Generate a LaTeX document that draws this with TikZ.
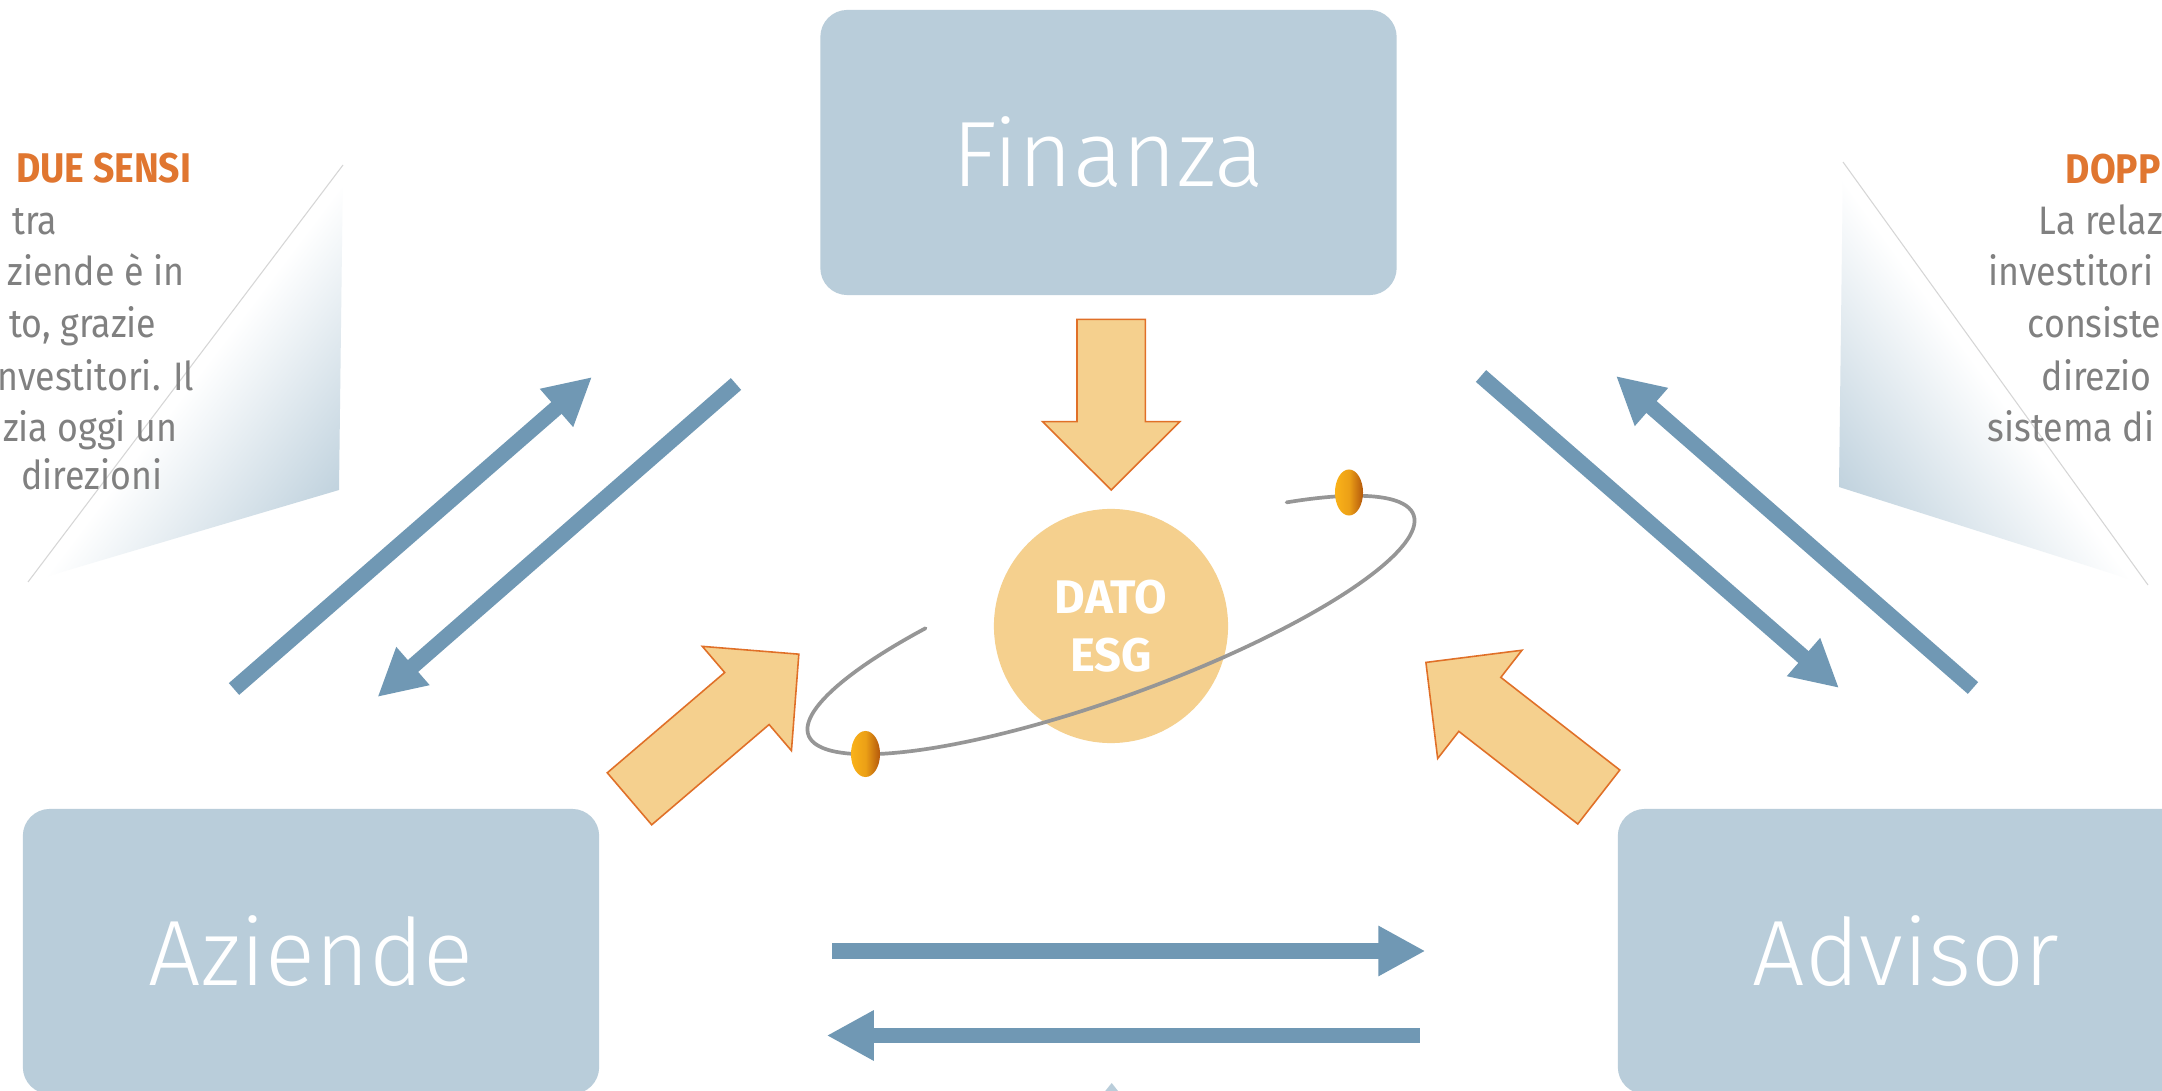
\documentclass[tikz,border=0pt]{standalone}
\usepackage{fontspec}
\setmainfont{Fira Sans}
\newfontfamily\lightfont{Fira Sans Light}
\newfontfamily\sidefont[FakeStretch=0.9]{Fira Sans}
\usetikzlibrary{arrows.meta}

\definecolor{boxblue}{RGB}{185,205,218}
\definecolor{arrowblue}{RGB}{112,152,180}
\definecolor{peach}{RGB}{245,208,142}
\definecolor{orangeline}{RGB}{224,112,40}
\definecolor{titleorange}{RGB}{224,118,48}
\definecolor{txtgray}{RGB}{128,128,128}
\definecolor{beadlight}{RGB}{250,178,25}
\definecolor{beaddark}{RGB}{180,88,12}
\definecolor{orbitgray}{RGB}{150,150,150}

\pgfdeclareverticalshading{fold}{100bp}{color(0bp)=(boxblue); color(36bp)=(boxblue); color(45.5bp)=(boxblue!50); color(55bp)=(white); color(100bp)=(white)}

\tikzset{
  bigbox/.style={rounded corners=0.27cm, fill=boxblue, minimum width=5.76cm, minimum height=2.85cm,
    text=white, font=\lightfont\fontsize{26.4pt}{30pt}\selectfont, inner sep=0pt},
  sidetxt/.style={inner sep=0pt, text=txtgray, font=\sidefont\fontsize{11.3pt}{14.6pt}\selectfont},
  sidetitle/.style={inner sep=0pt, text=titleorange, font=\sidefont\bfseries\fontsize{11.8pt}{14.6pt}\selectfont},
  flow/.style={draw=arrowblue, line width=4.45pt, -{Triangle[length=13.4pt,width=13.4pt]}},
  blockarrow/.style={fill=peach, draw=orangeline, line width=0.45pt, line join=miter},
  foldedge/.style={draw=black!16, line width=0.3pt}
}

\newcommand\blockarr[4]{% tail, angle, shaft length, name
  \begin{scope}[shift={(#1)}, rotate=#2]
    \filldraw[blockarrow] (0,-34.2) -- (#3,-34.2) -- (#3,-68.6) -- ({#3+68.3},0)
      -- (#3,68.6) -- (#3,34.2) -- (0,34.2) -- cycle;
    \coordinate (#4) at ({#3+68.3},0);
  \end{scope}}

\begin{document}
\begin{tikzpicture}[x=0.01cm, y=-0.01cm]
\useasboundingbox (0,0) rectangle (2162,1091);
\clip (0,0) rectangle (2162,1091);
\fill[white] (0,0) rectangle (2162,1091);

% folded gradient panels
\begin{scope}
  \clip (343,165) -- (339,490) -- (28,582) -- cycle;
  \shade[shading=fold, shading angle=52.9] (-33.3,142.3) rectangle (506.7,682.3);
\end{scope}
\draw[foldedge] (343,165) -- (28,582);
\begin{scope}
  \clip (1843,162) -- (1839,487) -- (2148,585) -- cycle;
  \shade[shading=fold, shading angle=-54.2] (1673.3,141.3) rectangle (2213.3,681.3);
\end{scope}
\draw[foldedge] (1843,162) -- (2148,585);

% left side text
\node[sidetitle, anchor=base east] (lt0) at (192,183) {DUE SENSI};
\node[sidetxt, anchor=base east] (lt1) at (58,235) {tra};
\node[sidetxt, anchor=base east] (lt2) at (185,286) {ziende è in};
\node[sidetxt, anchor=base east] (lt3) at (157,338) {to, grazie};
\node[sidetxt, anchor=base east] (lt4) at (195,390) {nvestitori. Il};
\node[sidetxt, anchor=base east] (lt5) at (178,442) {zia oggi un};
\node[sidetxt, anchor=base east] (lt6) at (163,490) {direzioni};

% right side text
\node[sidetitle, anchor=base west] (rt0) at (2065,184) {DOPP};
\node[sidetxt, anchor=base west] (rt1) at (2038,235) {La relaz};
\node[sidetxt, anchor=base west] (rt2) at (1988,286) {investitori};
\node[sidetxt, anchor=base west] (rt3) at (2027,338) {consiste};
\node[sidetxt, anchor=base west] (rt4) at (2041,390) {direzio};
\node[sidetxt, anchor=base west] (rt5) at (1987,442) {sistema di};

% boxes
\node[bigbox] (fin) at (1108.5,152.5) {Finanza};
\node[bigbox] (azi) at (311,951.5) {Aziende};
\node[bigbox] (adv) at (1906,951.5) {Advisor};

% blue flow arrows
\coordinate (a1s) at (234,689);   \coordinate (a1e) at (592,377);
\coordinate (a2s) at (736,384);   \coordinate (a2e) at (377.5,697);
\coordinate (a3s) at (1481,376);  \coordinate (a3e) at (1839,688);
\coordinate (a4s) at (1973,688);  \coordinate (a4e) at (1616,376);
\coordinate (a5s) at (832.4,951); \coordinate (a5e) at (1425.4,951);
\coordinate (a6s) at (1419.7,1035.5); \coordinate (a6e) at (826.7,1035.5);
\draw[flow] (a1s) -- (a1e);
\draw[flow] (a2s) -- (a2e);
\draw[flow] (a3s) -- (a3e);
\draw[flow] (a4s) -- (a4e);
\draw[flow] (a5s) -- (a5e);
\draw[flow] (a6s) -- (a6e);

% bottom partial tip
\fill[boxblue] (1111.7,1083) -- (1090,1110) -- (1133,1110) -- cycle;

% orange block arrows
\blockarr{1111.2,319.3}{-90}{102.4}{tipT}
\blockarr{629.5,798.8}{40.5}{154.4}{tipL}
\blockarr{1598.8,797}{142.1}{150.8}{tipR}

% central circle
\node[circle, fill=peach, minimum size=2.34cm, inner sep=0pt, align=center,
      text=white, font=\bfseries\fontsize{13.4pt}{16.6pt}\selectfont] (dato) at (1111,626) {DATO\\ESG};

% orbit
\draw[orbitgray, line width=1.05pt, line cap=round]
  plot[domain=50:-237, samples=120, smooth]
  ({1111 + 322*cos(\x)*cos(20) - 72*sin(\x)*sin(20)},
   {625 - (322*cos(\x)*sin(20) + 72*sin(\x)*cos(20))});

% beads
\shade[left color=beadlight, right color=beaddark, middle color=beadlight!80!beaddark]
  (1349,492.5) ellipse [x radius=0.14cm, y radius=0.23cm];
\shade[left color=beadlight, right color=beaddark, middle color=beadlight!80!beaddark]
  (865.5,754) ellipse [x radius=0.145cm, y radius=0.23cm];
\end{tikzpicture}
\end{document}
